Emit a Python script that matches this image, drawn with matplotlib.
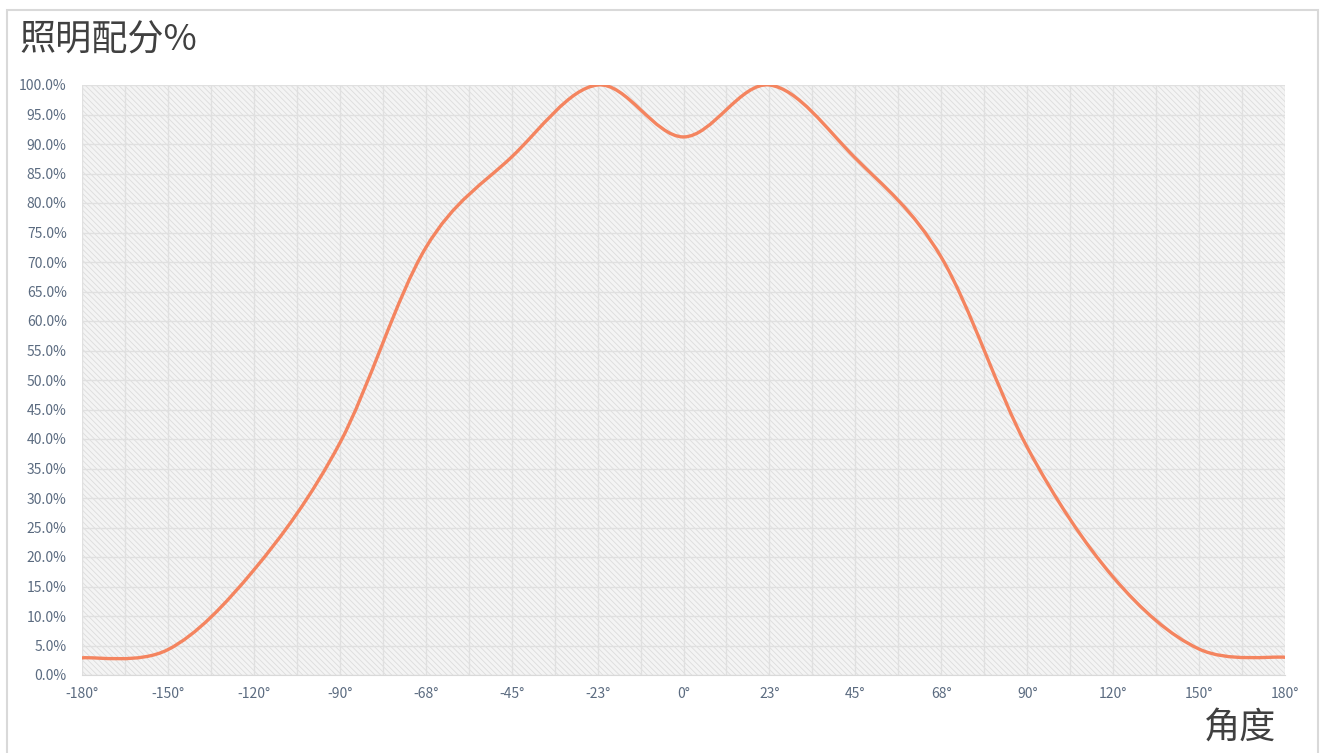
import numpy as np
import matplotlib
matplotlib.use("Agg")
import matplotlib.pyplot as plt
from matplotlib.path import Path
from matplotlib.patches import PathPatch, Rectangle
from matplotlib.ticker import FuncFormatter, MultipleLocator

plt.rcParams['font.family'] = ['Noto Sans CJK SC', 'DejaVu Sans']
plt.rcParams['hatch.linewidth'] = 0.6
plt.rcParams['hatch.color'] = '#dcdcdc'

# category labels on the x axis (evenly spaced)
angle_labels = ['-180°', '-150°', '-120°', '-90°', '-68°', '-45°', '-23°', '0°',
                '23°', '45°', '68°', '90°', '120°', '150°', '180°']
# relative illumination at each angle (percent)
light_pct = [2.9, 4.3, 17.8, 39.3, 72.4, 87.8, 100.0, 91.2,
             100.0, 87.6, 70.8, 38.6, 16.6, 4.4, 3.0]

pos = np.arange(len(light_pct))
val = np.array(light_pct) / 100.0


def smooth_path(x, y):
    # excel style smoothed line: catmull-rom segments as cubic beziers
    pts = np.column_stack([x, y]).astype(float)
    verts = [pts[0]]
    codes = [Path.MOVETO]
    n = len(pts)
    for i in range(n - 1):
        p0 = pts[max(i - 1, 0)]
        p1 = pts[i]
        p2 = pts[i + 1]
        p3 = pts[min(i + 2, n - 1)]
        verts += [p1 + (p2 - p0) / 6.0, p2 - (p3 - p1) / 6.0, p2]
        codes += [Path.CURVE4] * 3
    return Path(verts, codes)


fig = plt.figure(figsize=(13.22, 7.53), dpi=100)
fig.patches.append(Rectangle((7 / 1322, -0.05), 1311 / 1322, 1.0 - 10 / 753 + 0.05,
                             transform=fig.transFigure, fill=False,
                             edgecolor='#d9d9d9', linewidth=1.5))

ax = fig.add_axes([82 / 1322, 78 / 753, 1203 / 1322, 590 / 753])
ax.set_facecolor('#f4f4f4')
ax.add_patch(Rectangle((0, 0), 1, 1, transform=ax.transAxes, facecolor='none',
                       edgecolor='#dcdcdc', hatch='\\' * 6, linewidth=0, zorder=0))

ax.add_patch(PathPatch(smooth_path(pos, val), facecolor='none',
                       edgecolor='#f4845f', linewidth=2.4, zorder=3,
                       capstyle='round'))

ax.set_xlim(0, len(angle_labels) - 1)
ax.set_ylim(0, 1.0)
ax.set_xticks(range(len(angle_labels)))
ax.set_xticklabels(angle_labels)
ax.xaxis.set_minor_locator(MultipleLocator(0.5))
ax.yaxis.set_major_locator(MultipleLocator(0.05))
ax.yaxis.set_major_formatter(FuncFormatter(lambda v, p: '{:.1f}%'.format(v * 100)))

ax.grid(True, which='both', axis='x', color='#e0e0e0', linewidth=1.0, zorder=1)
ax.grid(True, which='major', axis='y', color='#e0e0e0', linewidth=1.0, zorder=1)
ax.set_axisbelow(True)
ax.tick_params(which='both', length=0)
ax.tick_params(axis='both', labelsize=10, labelcolor='#5b6b80')
ax.tick_params(axis='y', pad=11)
ax.tick_params(axis='x', pad=9)
for s in ['top', 'right', 'left']:
    ax.spines[s].set_visible(False)
ax.spines['bottom'].set_color('#d9d9d9')

fig.text(19 / 1322, 1 - 41 / 753, '照明配分%', fontsize=26, color='#404040',
         va='center', ha='left')
fig.text(1276 / 1322, 1 - 728 / 753, '角度', fontsize=26, color='#404040',
         va='center', ha='right')

fig.savefig('out.png', dpi=100)
